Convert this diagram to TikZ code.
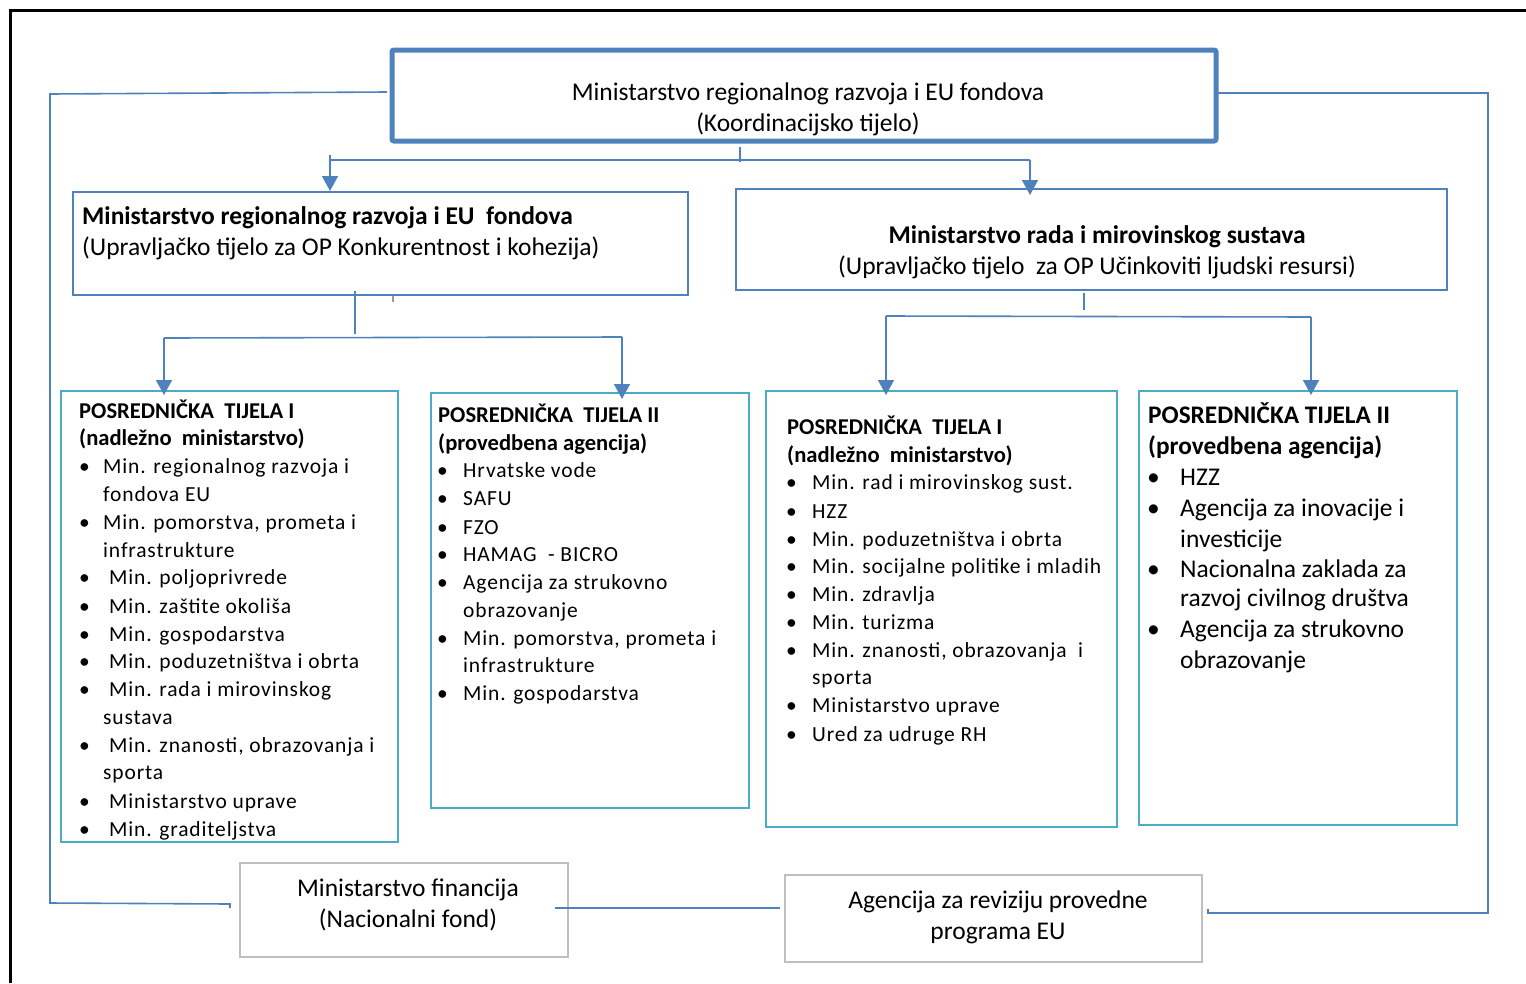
\documentclass[tikz,border=0pt]{standalone}
\usepackage{fontspec}
\setmainfont{Carlito}
\newfontfamily\listfont[LetterSpace=4]{Carlito}
\usetikzlibrary{arrows.meta,fit}
\definecolor{blu}{HTML}{4F81BD}
\definecolor{tealb}{HTML}{4BACC6}
\definecolor{gryb}{HTML}{BFBFBF}
\begin{document}
\begin{tikzpicture}[x=1pt,y=-1pt,
  conn/.style={draw=blu,line width=1.6pt},
  arr/.style={conn,-{Triangle[width=16pt,length=15pt]}},
  frame/.style={draw=blu,line width=1.6pt,inner sep=0pt,outer sep=0pt},
  ptframe/.style={draw=tealb,line width=1.6pt,inner sep=0pt,outer sep=0pt},
  gframe/.style={draw=gryb,line width=1.6pt,inner sep=0pt,outer sep=0pt},
  big/.style={inner sep=0pt,anchor=base,font=\fontsize{25.5}{30}\selectfont},
  bigb/.style={inner sep=0pt,anchor=base,font=\fontsize{25.5}{30}\selectfont\bfseries},
  lt/.style={anchor=base west,inner sep=0pt,font=\fontsize{21.5}{26}\listfont},
  ttl/.style={anchor=base west,inner sep=0pt,font=\fontsize{22.6}{27}\selectfont\bfseries},
  ltb/.style={anchor=base west,inner sep=0pt,font=\fontsize{25.5}{30}\selectfont},
  ttlb/.style={anchor=base west,inner sep=0pt,font=\fontsize{25.3}{30}\selectfont\bfseries},
]
\useasboundingbox (0,0) rectangle (1526,983);
\draw[black,line width=3pt] (10,983) -- (10,10) -- (1526,10);

% boxes
\node[frame,line width=5pt,rounded corners=2pt,fit={(392,50)(1216,141)}] (top) {};
\node[frame,fit={(73,192)(688,295)}] (mrr) {};
\node[frame,fit={(736,189)(1447,290)}] (mrms) {};
\node[ptframe,fit={(61,391)(398,842)}] (pt1) {};
\node[ptframe,fit={(431,393)(749,808)}] (pt2) {};
\node[ptframe,fit={(766,391)(1117,827)}] (pt3) {};
\node[ptframe,fit={(1139,391)(1457,825)}] (pt4) {};
\node[gframe,fit={(240,863)(568,957)}] (mf) {};
\node[gframe,fit={(785,875)(1202,962)}] (arp) {};

% header texts
\node[big] (topa) at (808,100) {Ministarstvo regionalnog razvoja i EU fondova};
\node[big] (topb) at (808,131) {(Koordinacijsko tijelo)};
\node[bigb,anchor=base west] (mrra) at (82,224) {Ministarstvo regionalnog razvoja i EU\ \ fondova};
\node[big,anchor=base west] (mrrb) at (82,255) {(Upravljačko tijelo za OP Konkurentnost i kohezija)};
\node[bigb] (mrmsa) at (1097,243) {Ministarstvo rada i mirovinskog sustava};
\node[big] (mrmsb) at (1097,274) {(Upravljačko tijelo\ \ za OP Učinkoviti ljudski resursi)};
\node[big] (mfa) at (408,896) {Ministarstvo financija};
\node[big] (mfb) at (408,927) {(Nacionalni fond)};
\node[big] (arpa) at (998,908) {Agencija za reviziju provedne};
\node[big] (arpb) at (998,939) {programa EU};

% PT I left
\node[ttl] (p1t1) at (79,418) {POSREDNIČKA\ \ TIJELA I};
\node[ttl] (p1t2) at (79,445) {(nadležno\ \ ministarstvo)};
\foreach \bu/\xx/\yy/\st [count=\i] in {
  1/103/473/{Min. regionalnog razvoja i},
  0/103/501/{fondova EU},
  1/103/529/{Min. pomorstva, prometa i},
  0/103/557/{infrastrukture},
  1/109/584/{Min. poljoprivrede},
  1/109/613/{Min. zaštite okoliša},
  1/109/641/{Min. gospodarstva},
  1/109/668/{Min. poduzetništva i obrta},
  1/109/696/{Min. rada i mirovinskog},
  0/103/724/{sustava},
  1/109/752/{Min. znanosti, obrazovanja i},
  0/103/779/{sporta},
  1/109/808/{Ministarstvo uprave},
  1/109/836/{Min. graditeljstva}}{
  \ifnum\bu=1 \node[lt] (p1b\i) at (79,\yy) {•};\fi
  \node[lt] (p1l\i) at (\xx,\yy) {\st};
}

% PT II left
\node[ttl] (p2t1) at (438,422) {POSREDNIČKA\ \ TIJELA II};
\node[ttl] (p2t2) at (438,450) {(provedbena agencija)};
\foreach \bu/\yy/\st [count=\i] in {
  1/477/{Hrvatske vode},
  1/505/{SAFU},
  1/534/{FZO},
  1/561/{HAMAG\ \ - BICRO},
  1/589/{Agencija za strukovno},
  0/617/{obrazovanje},
  1/645/{Min. pomorstva, prometa i},
  0/672/{infrastrukture},
  1/700/{Min. gospodarstva}}{
  \ifnum\bu=1 \node[lt] (p2b\i) at (437,\yy) {•};\fi
  \node[lt] (p2l\i) at (463,\yy) {\st};
}

% PT I right
\node[ttl] (p3t1) at (787,434) {POSREDNIČKA\ \ TIJELA I};
\node[ttl] (p3t2) at (787,462) {(nadležno\ \ ministarstvo)};
\foreach \bu/\yy/\st [count=\i] in {
  1/489/{Min. rad i mirovinskog sust.},
  1/518/{HZZ},
  1/546/{Min. poduzetništva i obrta},
  1/573/{Min. socijalne politike i mladih},
  1/601/{Min. zdravlja},
  1/629/{Min. turizma},
  1/657/{Min. znanosti, obrazovanja\ \ i},
  0/684/{sporta},
  1/712/{Ministarstvo uprave},
  1/741/{Ured za udruge RH}}{
  \ifnum\bu=1 \node[lt] (p3b\i) at (786,\yy) {•};\fi
  \node[lt] (p3l\i) at (812,\yy) {\st};
}

% PT II right
\node[ttlb] (p4t1) at (1148,423) {POSREDNIČKA TIJELA II};
\node[ttlb] (p4t2) at (1148,454) {(provedbena agencija)};
\foreach \bu/\yy/\st [count=\i] in {
  1/485/{HZZ},
  1/516/{Agencija za inovacije i},
  0/547/{investicije},
  1/577/{Nacionalna zaklada za},
  0/606/{razvoj civilnog društva},
  1/637/{Agencija za strukovno},
  0/668/{obrazovanje}}{
  \ifnum\bu=1 \node[ltb] (p4b\i) at (1147,\yy) {•};\fi
  \node[ltb] (p4l\i) at (1180,\yy) {\st};
}

% connectors: top level
\coordinate (j0) at (740,160);
\draw[conn] (740,147) -- (740,162);
\draw[conn] (330,160) -- (1030,160);
\draw[arr] (330,155) -- ([yshift=1pt]mrr.north -| 330,0);
\draw[arr] (1030,160) -- ([yshift=-6pt]mrms.north -| 1030,0);

% MRR branch
\draw[conn] (355,291) -- (355,334);
\draw[conn] (164,338) -- (622,337);
\draw[arr] (164,338) -- ([yshift=-4pt]pt1.north -| 164,0);
\draw[arr] (622,337) -- ([yshift=-6pt]pt2.north -| 622,0);
\draw[gryb!80!black,line width=1.5pt] (393,296) -- (393,302);

% MRMS branch
\draw[conn] (1084,293) -- (1084,310);
\draw[conn] (886,316) -- (1311,317);
\draw[arr] (886,316) -- ([yshift=-4pt]pt3.north -| 886,0);
\draw[arr] (1311,317) -- ([yshift=-4pt]pt4.north -| 1311,0);

% outer loops
\draw[conn] ([xshift=-5pt]top.west |- 0,92) -- (50,94) -- (50,903) -- (230,904) -- (230,908);
\draw[conn] ([xshift=2pt]top.east |- 0,93) -- (1488,93) -- (1488,913) -- (1208,913) -- (1208,909);
\draw[conn] (555,908) -- (780,908);
\end{tikzpicture}
\end{document}
